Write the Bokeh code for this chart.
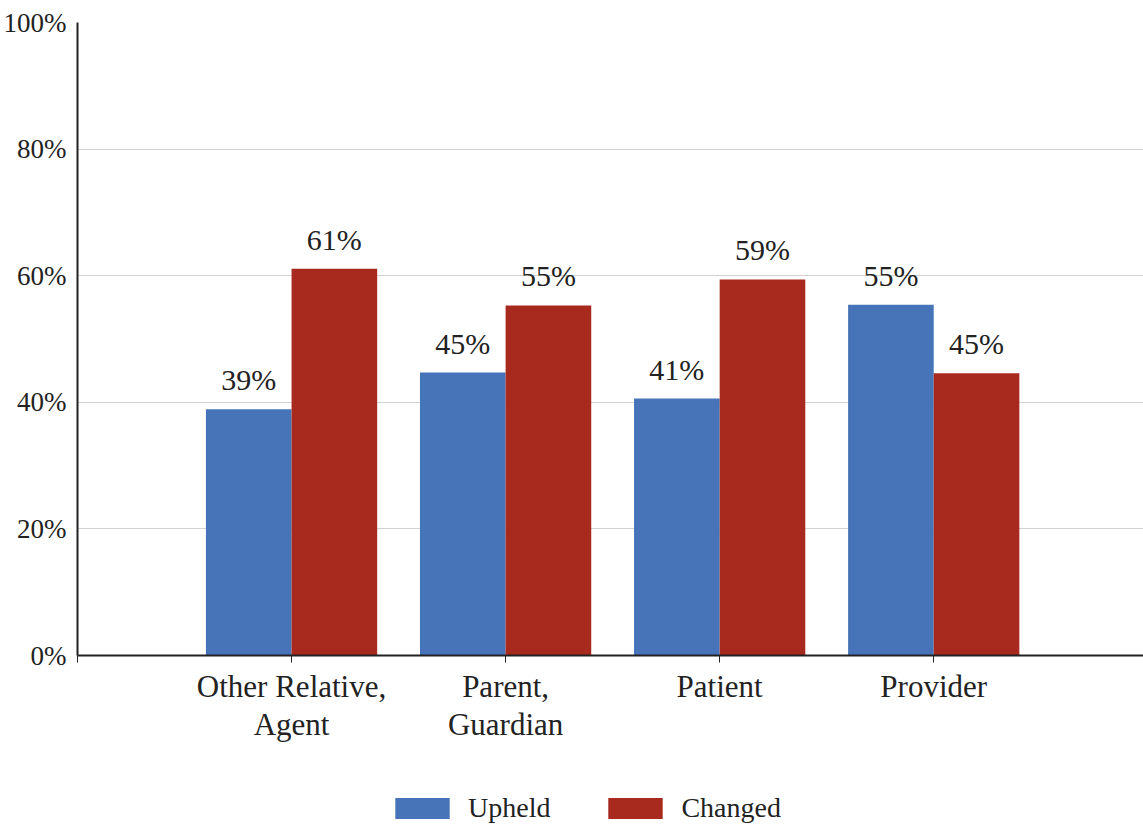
from bokeh.plotting import figure
from bokeh.layouts import column
from bokeh.models import ColumnDataSource, FixedTicker, PrintfTickFormatter, Legend, LegendItem, LabelSet
from bokeh.embed import file_html
from bokeh.resources import INLINE
from bokeh.core.properties import value

categories = ["Other Relative,\nAgent", "Parent,\nGuardian", "Patient", "Provider"]
upheld = [38.9, 44.7, 40.6, 55.4]
changed = [61.1, 55.3, 59.4, 44.6]
y_ticks = [0, 20, 40, 60, 80, 100]
series = ["Upheld", "Changed"]

BLUE = "#4774b8"
RED = "#a82a1f"
FONT = "Liberation Serif"
TXT = "#222222"

pos = list(range(1, len(categories) + 1))
w = 0.4
src_u = ColumnDataSource(dict(x=[p_ - w / 2 for p_ in pos], top=upheld,
                              lab=[f"{round(v)}%" for v in upheld]))
src_c = ColumnDataSource(dict(x=[p_ + w / 2 for p_ in pos], top=changed,
                              lab=[f"{round(v)}%" for v in changed]))

p = figure(width=1143, height=760, output_backend="svg", toolbar_location=None,
           x_range=(0, 4.98), y_range=(0, 100),
           min_border_left=77, min_border_right=0, min_border_top=22, min_border_bottom=105)
p.outline_line_color = None
p.background_fill_color = "white"
p.border_fill_color = "white"

r_u = p.vbar(x="x", top="top", width=w, source=src_u, fill_color=BLUE, line_color=None)
r_c = p.vbar(x="x", top="top", width=w, source=src_c, fill_color=RED, line_color=None)

for src in (src_u, src_c):
    lbl = LabelSet(x="x", y="top", text="lab", source=src, text_align="center",
                   text_baseline="bottom", y_offset=13, text_font=value(FONT),
                   text_font_size="30px", text_color=TXT)
    p.add_layout(lbl)

# axes
p.xaxis.ticker = FixedTicker(ticks=[0] + pos)
p.xaxis.major_label_overrides = {0: "", **{i: c for i, c in zip(pos, categories)}}
p.xaxis.major_label_text_font = FONT
p.xaxis.major_label_text_font_size = "31px"
p.xaxis.major_label_text_line_height = 1.1
p.xaxis.major_label_text_color = TXT
p.xaxis.major_label_standoff = 6
p.xaxis.major_tick_out = 7
p.xaxis.major_tick_in = 0
p.xaxis.minor_tick_line_color = None
p.xaxis.axis_line_width = 2
p.xaxis.axis_line_color = TXT
p.xaxis.major_tick_line_color = TXT

p.yaxis.ticker = FixedTicker(ticks=y_ticks)
p.yaxis.formatter = PrintfTickFormatter(format="%d%%")
p.yaxis.major_label_text_font = FONT
p.yaxis.major_label_text_font_size = "27px"
p.yaxis.major_label_text_color = TXT
p.yaxis.major_tick_out = 0
p.yaxis.major_tick_in = 0
p.yaxis.major_label_standoff = 11
p.yaxis.minor_tick_line_color = None
p.yaxis.axis_line_width = 2
p.yaxis.axis_line_color = TXT

p.xgrid.grid_line_color = None
p.ygrid.grid_line_color = "#d2d2d2"
p.ygrid.grid_line_width = 1

# legend strip below the chart (swatch renderers sit outside the visible range)
lg = figure(width=1143, height=65, output_backend="svg", toolbar_location=None,
            x_range=(0, 1), y_range=(0, 1), x_axis_type=None, y_axis_type=None,
            min_border_left=0, min_border_right=0, min_border_top=0, min_border_bottom=0)
lg.outline_line_color = None
lg.grid.grid_line_color = None
lr_u = lg.vbar(x=[5], top=[1], width=w, fill_color=BLUE, line_color=None)
lr_c = lg.vbar(x=[5], top=[1], width=w, fill_color=RED, line_color=None)
legend = Legend(items=[LegendItem(label=series[0], renderers=[lr_u]),
                       LegendItem(label=series[1], renderers=[lr_c])],
                orientation="horizontal", location=(311, 1),
                glyph_width=68, glyph_height=26, label_standoff=12, spacing=51,
                padding=0, margin=0, border_line_color=None,
                label_text_font=FONT, label_text_font_size="28px",
                label_text_color=TXT, background_fill_alpha=0)
lg.add_layout(legend, "center")

layout = column(p, lg, spacing=0)
open("out.html", "w").write(file_html(layout, INLINE))
